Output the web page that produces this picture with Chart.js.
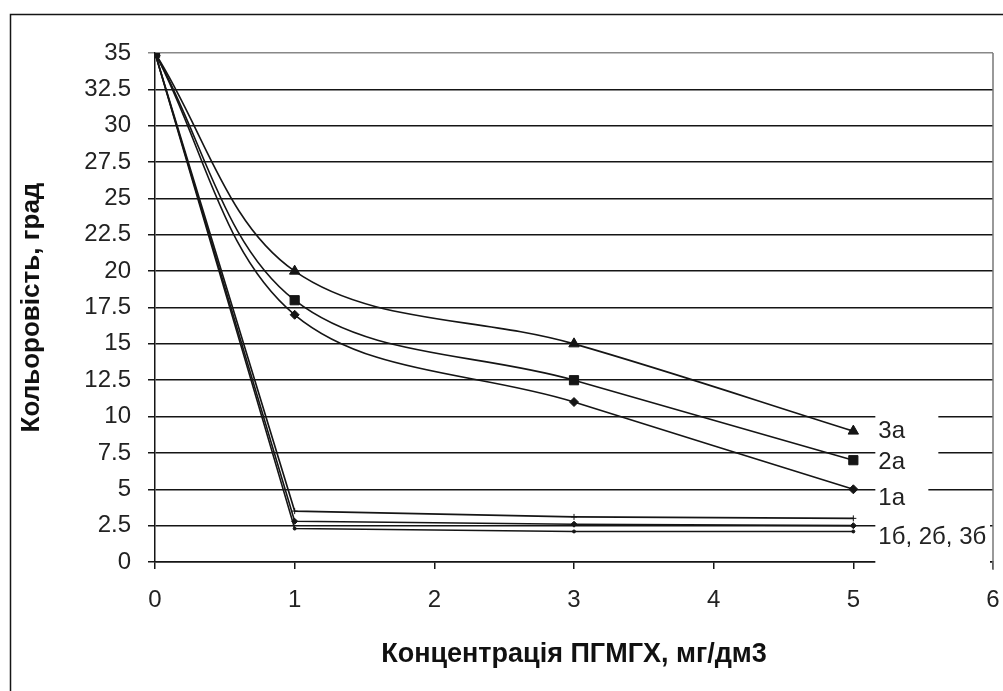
<!DOCTYPE html>
<html>
<head>
<meta charset="utf-8">
<title>Кольоровість</title>
<script src="https://cdn.jsdelivr.net/npm/chart.js@4.4.1/dist/chart.umd.min.js"></script>
<style>
	html, body { margin: 0; padding: 0; background: #fff; }
	#wrap { width: 1003px; height: 691px; }
</style>
</head>
<body>
<div id="wrap"><canvas id="chart1" width="1003" height="691"></canvas></div>
<script>
"use strict";

// concentration, mg/dm3
var concentration = [0, 1, 3, 5];

// colour, degrees (series "a")
var colour1a = [35, 17, 11, 5];
var colour2a = [35, 18, 12.5, 7];
var colour3a = [35, 20, 15, 9];

// colour, degrees (series "б")
var colour1b = [35, 3.5, 3.1, 3.0];
var colour2b = [35, 2.8, 2.6, 2.5];
var colour3b = [35, 2.3, 2.1, 2.1];

var xTicks = [0, 1, 2, 3, 4, 5, 6];
var yTicks = [0, 2.5, 5, 7.5, 10, 12.5, 15, 17.5, 20, 22.5, 25, 27.5, 30, 32.5, 35];

var seriesNames = ['1а', '2а', '3а', '1б', '2б', '3б'];
var endLabels = ['3а', '2а', '1а', '1б, 2б, 3б'];

function toPoints(ys) {
	return concentration.map(function(x, i) { return { x: x, y: ys[i] }; });
}

var FONT = "'Liberation Sans', Arial, sans-serif";
var INK = '#151515';

// white-backed labels at the right end of the curves
var endLabelStyle = [
	{ ds: 2, dy: 0,  left: 3, right: 60, up: 17, down: 17 },
	{ ds: 1, dy: 2,  left: 3, right: 60, up: 16, down: 16 },
	{ ds: 0, dy: 9,  left: 3, right: 50, up: 16, down: 16 },
	{ ds: 4, dy: 12, left: 3, right: 0,  up: 21, down: 30 }
];

var frame = {
	id: 'frame',
	beforeDraw: function(chart) {
		var c = chart.ctx;
		c.save();
		c.fillStyle = '#fff';
		c.fillRect(0, 0, chart.width, chart.height);
		c.strokeStyle = INK;
		c.lineWidth = 1.5;
		c.beginPath();
		c.moveTo(10.5, chart.height + 5);
		c.lineTo(10.5, 14.5);
		c.lineTo(chart.width + 5, 14.5);
		c.stroke();
		c.restore();
	},
	afterDatasetsDraw: function(chart) {
		var c = chart.ctx;
		var area = chart.chartArea;
		var xs = chart.scales.x;
		c.save();
		c.font = '24px ' + FONT;
		c.textBaseline = 'middle';
		endLabelStyle.forEach(function(st, i) {
			var meta = chart.getDatasetMeta(st.ds);
			var last = meta.data[meta.data.length - 1];
			var tx = xs.getPixelForValue(concentration[concentration.length - 1]) + 25;
			var ty = last.y + st.dy;
			var right = st.right ? tx + st.right : area.right - 3;
			c.fillStyle = '#fff';
			c.fillRect(tx - st.left, ty - st.up, right - (tx - st.left), st.up + st.down);
			c.fillStyle = '#222';
			c.textAlign = 'left';
			c.fillText(endLabels[i], tx, ty);
		});
		// plot area border on the right
		c.strokeStyle = '#777';
		c.lineWidth = 1.5;
		c.beginPath();
		c.moveTo(area.right, area.top);
		c.lineTo(area.right, area.bottom + 8);
		c.stroke();
		c.restore();
	}
};

function mainSeries(i, ys, style, r) {
	return {
		label: seriesNames[i],
		data: toPoints(ys),
		borderColor: INK,
		backgroundColor: INK,
		borderWidth: 1.6,
		pointStyle: style,
		pointRadius: r,
		pointBorderWidth: 1,
		tension: 0.35
	};
}

function lowSeries(i, ys, style, r) {
	return {
		label: seriesNames[i],
		data: toPoints(ys),
		borderColor: INK,
		backgroundColor: INK,
		borderWidth: 1.6,
		pointStyle: style,
		pointRadius: r,
		pointBorderWidth: 1,
		tension: 0
	};
}

var ctx = document.getElementById('chart1').getContext('2d');
var myChart = new Chart(ctx, {
	type: 'line',
	data: {
		datasets: [
			mainSeries(0, colour1a, 'rectRot', 4.5),
			mainSeries(1, colour2a, 'rect', 6.5),
			mainSeries(2, colour3a, 'triangle', 6),
			lowSeries(3, colour1b, 'cross', 3),
			lowSeries(4, colour2b, 'rectRot', 3),
			lowSeries(5, colour3b, 'circle', 1.5)
		]
	},
	plugins: [frame],
	options: {
		responsive: false,
		animation: false,
		layout: {
			padding: { left: 0, right: 10, top: 53, bottom: 0 }
		},
		plugins: {
			legend: { display: false },
			tooltip: { enabled: false }
		},
		scales: {
			x: {
				type: 'linear',
				min: xTicks[0],
				max: xTicks[xTicks.length - 1],
				afterBuildTicks: function(s) { s.ticks = xTicks.map(function(v) { return { value: v }; }); },
				afterFit: function(s) {
					s.height = 129;
					s.paddingLeft = 0;
					s.paddingRight = 0;
				},
				border: { color: INK, width: 1.5 },
				grid: {
					drawOnChartArea: false,
					drawTicks: true,
					tickLength: 7,
					color: INK,
					lineWidth: 1.5
				},
				ticks: {
					padding: 17,
					color: '#222',
					font: { family: FONT, size: 24 }
				},
				title: {
					display: true,
					text: 'Концентрація ПГМГХ, мг/дм3',
					color: '#111',
					font: { family: FONT, size: 27, weight: 'bold', lineHeight: 1.2 },
					padding: { top: 0, bottom: 20 }
				}
			},
			y: {
				min: yTicks[0],
				max: yTicks[yTicks.length - 1],
				afterBuildTicks: function(s) { s.ticks = yTicks.map(function(v) { return { value: v }; }); },
				afterFit: function(s) { s.width = 155; },
				border: { color: INK, width: 1.5 },
				grid: {
					drawTicks: true,
					tickLength: 7,
					lineWidth: 1.5,
					color: function(c) { return c.tick && c.tick.value === 35 ? '#888' : INK; }
				},
				ticks: {
					padding: 17,
					color: '#222',
					font: { family: FONT, size: 24 },
					callback: function(v) { return String(v); }
				},
				title: {
					display: true,
					text: 'Кольоровість, град',
					color: '#111',
					font: { family: FONT, size: 26, weight: 'bold', lineHeight: 1.2 },
					padding: { top: 16, bottom: 0 }
				}
			}
		}
	}
});
</script>
</body>
</html>
